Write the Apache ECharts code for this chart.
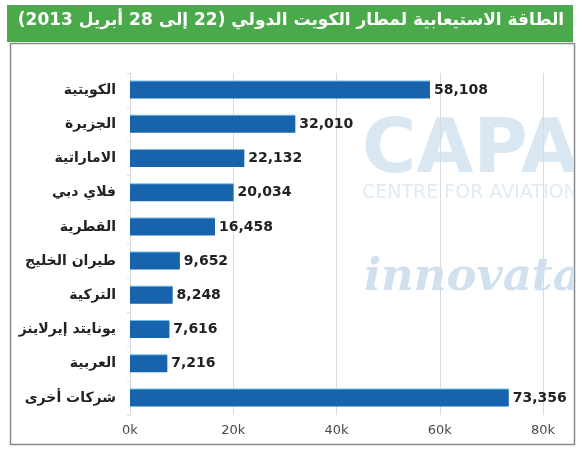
<!DOCTYPE html>
<html>
<head>
<meta charset="utf-8">
<script src="https://cdn.jsdelivr.net/npm/echarts@6/dist/echarts.min.js"></script>
<style>
  html, body { margin: 0; padding: 0; background: #fff; }
  #chart { width: 582px; height: 450px; }
</style>
</head>
<body>
<div id="chart"></div>
<script>
  // 航空公司（从上到下）
  const airlines = ['الكويتية', 'الجزيرة', 'الاماراتية', 'فلاي دبي', 'القطرية', 'طيران الخليج', 'التركية', 'يونايتد إيرلاينز', 'العربية', 'شركات أخرى']
  const seats = [58108, 32010, 22132, 20034, 16458, 9652, 8248, 7616, 7216, 73356]
  const xTicks = [0, 20000, 40000, 60000, 80000]
  const titleText = 'الطاقة الاستيعابية لمطار الكويت الدولي (22 إلى 28 أبريل 2013)'

  const arFont = "'DejaVu Sans', sans-serif"
  const chart = echarts.init(document.getElementById('chart'))

  chart.setOption({
    animation: false,
    grid: { left: 130, right: 39, top: 73, height: 342, containLabel: false },
    xAxis: {
      type: 'value',
      min: xTicks[0],
      max: xTicks[xTicks.length - 1],
      interval: 20000,
      axisLine: { show: false },
      axisTick: { show: false },
      splitLine: { lineStyle: { color: '#dadada', width: 1 } },
      axisLabel: {
        color: '#4a4a4a',
        fontSize: 13,
        fontFamily: arFont,
        margin: 9,
        formatter: v => (v / 1000) + 'k'
      }
    },
    yAxis: {
      type: 'category',
      inverse: true,
      data: airlines,
      axisLine: { lineStyle: { color: '#dadada' } },
      axisTick: { show: true, length: 3, lineStyle: { color: '#dadada' } },
      axisLabel: {
        color: '#222',
        fontSize: 14,
        fontWeight: 'bold',
        fontFamily: arFont,
        margin: 14,
        padding: [0, 0, 4, 0]
      }
    },
    series: [{
      type: 'bar',
      data: seats,
      barWidth: 17,
      itemStyle: {
        color: '#1763ad',
        shadowColor: '#6fc0ea',
        shadowOffsetY: -1,
        shadowBlur: 0
      },
      label: {
        show: true,
        position: 'right',
        distance: 4,
        color: '#222',
        fontSize: 14,
        fontWeight: 'bold',
        fontFamily: arFont,
        formatter: p => p.value.toLocaleString('en-US')
      }
    }],
    graphic: [
      // 水印
      {
        type: 'text', left: 362, top: 116, z: -10, silent: true,
        style: { text: 'CAPA', fill: '#d8e7f2', font: 'bold 74px "DejaVu Sans"' }
      },
      {
        type: 'text', left: 362, top: 184, z: -10, silent: true,
        style: { text: 'CENTRE FOR AVIATION', fill: '#e0ebf3', font: '19px "DejaVu Sans"' }
      },
      {
        type: 'text', left: 364, top: 256, z: -10, silent: true,
        style: { text: 'innovata', fill: '#d0e0ee', font: 'italic bold 45px "DejaVu Serif"' }
      },
      // 遮住溢出
      {
        type: 'rect', left: 573, top: 0, z: 100, silent: true,
        shape: { width: 20, height: 450 }, style: { fill: '#fff' }
      },
      // 外框
      {
        type: 'rect', left: 8, top: 41, z: 101, silent: true,
        shape: { width: 564, height: 401 },
        style: { fill: 'none', stroke: '#8a8a8a', lineWidth: 1.5 }
      },
      // 标题栏
      {
        type: 'rect', left: 7, top: 5, z: 102, silent: true,
        shape: { width: 566, height: 37 }, style: { fill: '#4aa94a' }
      },
      {
        type: 'text', left: 'center', top: 12, z: 103, silent: true,
        style: { text: titleText, fill: '#fff', font: 'bold 17px "DejaVu Sans"' }
      }
    ]
  })
</script>
</body>
</html>
